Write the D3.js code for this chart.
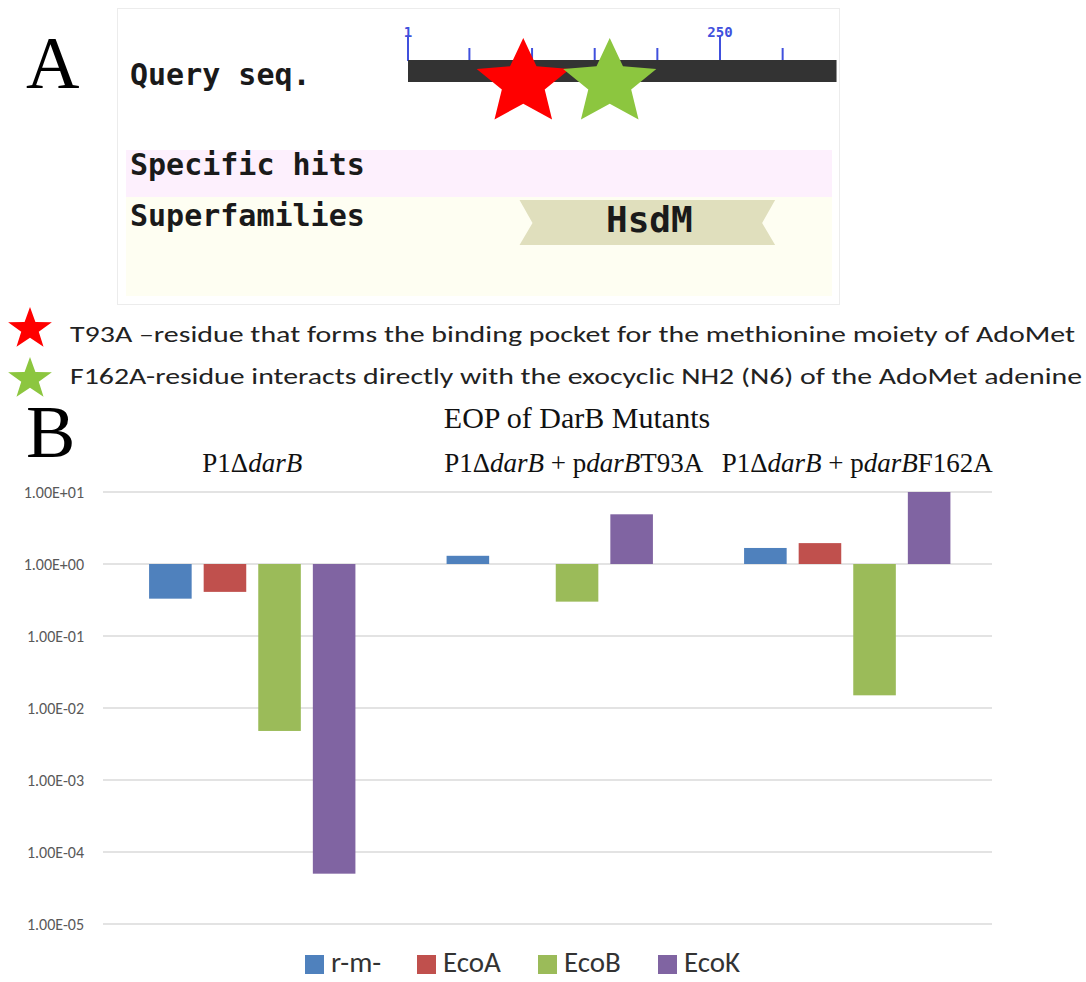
<!DOCTYPE html>
<html>
<head>
<meta charset="utf-8">
<script src="https://cdn.jsdelivr.net/npm/d3@7"></script>
<style>
  html, body { margin: 0; padding: 0; background: #fff; }
  svg { display: block; }
</style>
</head>
<body>
<svg id="fig" width="1086" height="982"></svg>
<script>
// ---------- Panel A: domain map of DarB ----------
const seqLength = 343;
const rulerTicks = [1, 50, 100, 150, 200, 250, 300];
const rulerLabels = [1, 250];
const mutations = [
  { residue: 93, name: "T93A", color: "#ff0000",
    text: "T93A \u2013residue that forms the binding pocket for the methionine moiety of AdoMet" },
  { residue: 162, name: "F162A", color: "#8cc63f",
    text: "F162A-residue interacts directly with the exocyclic NH2 (N6) of the AdoMet adenine" }
];
const trackNames = ["Query seq.", "Specific hits", "Superfamilies"];
const superfamily = { name: "HsdM", from: 90, to: 294 };

// ---------- Panel B: EOP bar chart ----------
const groups = ["P1\u0394darB", "P1\u0394darB + pdarBT93A", "P1\u0394darB + pdarBF162A"];
const series = ["r-m-", "EcoA", "EcoB", "EcoK"];
const eopRm   = [0.33, 1.3, 1.67];
const eopEcoA = [0.41, 1.0, 1.95];
const eopEcoB = [0.0048, 0.30, 0.015];
const eopEcoK = [0.00005, 4.9, 10];
const yTickValues = [1e1, 1e0, 1e-1, 1e-2, 1e-3, 1e-4, 1e-5];
const yTickLabels = ["1.00E+01", "1.00E+00", "1.00E-01", "1.00E-02", "1.00E-03", "1.00E-04", "1.00E-05"];
const seriesColors = ["#4f81bd", "#c0504d", "#9bbb59", "#8064a2"];

// group label pieces: [text, italic?]
const groupLabelParts = [
  [["P1\u0394", false], ["darB", true]],
  [["P1\u0394", false], ["darB", true], [" + p", false], ["darB", true], ["T93A", false]],
  [["P1\u0394", false], ["darB", true], [" + p", false], ["darB", true], ["F162A", false]]
];
const groupLabelShift = [0, 24, 10];

const svg = d3.select("#fig");
const serif = "'Liberation Serif', 'Times New Roman', serif";
const sans = "Carlito, Lato, 'Open Sans', sans-serif";
const mono = "'DejaVu Sans Mono', monospace";

function starPath(cx, cy, rx, ry, inner) {
  const pts = [];
  for (let i = 0; i < 10; i++) {
    const a = -Math.PI / 2 + i * Math.PI / 5;
    const k = i % 2 === 0 ? 1 : inner;
    pts.push([cx + Math.cos(a) * rx * k, cy + Math.sin(a) * ry * k]);
  }
  return d3.line()(pts) + "Z";
}

// ===== Panel A =====
const A = svg.append("g");
A.append("text").attr("x", 26).attr("y", 88).attr("font-family", serif)
  .attr("font-size", 74).attr("fill", "#000").text("A");

A.append("rect").attr("x", 117.5).attr("y", 8.5).attr("width", 722).attr("height", 296)
  .attr("fill", "#fff").attr("stroke", "#ececec");

// track backgrounds
A.append("rect").attr("x", 126).attr("y", 150).attr("width", 706).attr("height", 47).attr("fill", "#fdf0fd");
A.append("rect").attr("x", 126).attr("y", 197).attr("width", 706).attr("height", 99).attr("fill", "#fefef2");

const seqX = d3.scaleLinear().domain([1, 250]).range([408, 720]);

// ruler ticks
A.selectAll("line.rt").data(rulerTicks).join("line")
  .attr("x1", d => seqX(d)).attr("x2", d => seqX(d))
  .attr("y1", d => rulerLabels.includes(d) ? 36 : 48).attr("y2", 61)
  .attr("stroke", "#4050dd").attr("stroke-width", 2);
A.selectAll("text.rl").data(rulerLabels).join("text")
  .attr("x", d => seqX(d)).attr("y", 37).attr("text-anchor", "middle")
  .attr("font-family", mono).attr("font-weight", "bold").attr("font-size", 14)
  .attr("fill", "#4050dd").text(d => d);

// query sequence bar
A.append("rect").attr("x", seqX(1)).attr("y", 60)
  .attr("width", seqX(seqLength) - seqX(1)).attr("height", 22).attr("fill", "#333333");

// mutation stars
A.selectAll("path.mstar").data(mutations).join("path")
  .attr("d", d => starPath(seqX(d.residue), 83, 49, 45, 0.46))
  .attr("fill", d => d.color);

// track names
A.selectAll("text.tn").data(trackNames).join("text")
  .attr("x", 130).attr("y", (d, i) => [85, 175, 226][i])
  .attr("font-family", mono).attr("font-weight", "bold").attr("font-size", 30)
  .attr("fill", "#1a1a1a").text(d => d);

// superfamily ribbon
const sx0 = seqX(superfamily.from), sx1 = seqX(superfamily.to);
A.append("path")
  .attr("d", `M${sx0},200 L${sx1},200 L${sx1 - 13},223 L${sx1},245 L${sx0},245 L${sx0 + 13},223 Z`)
  .attr("fill", "#e0dfbd");
A.append("text").attr("x", (sx0 + sx1) / 2 + 2).attr("y", 232).attr("text-anchor", "middle")
  .attr("font-family", mono).attr("font-weight", "bold").attr("font-size", 36)
  .attr("fill", "#1a1a1a").text(superfamily.name);

// star key
const key = svg.append("g");
mutations.forEach((m, i) => {
  key.append("path").attr("d", starPath(30, [329, 379][i], 23, 22, 0.4)).attr("fill", m.color);
  key.append("text").attr("x", 70).attr("y", [342, 384][i])
    .attr("font-family", sans).attr("font-size", 23).attr("fill", "#222")
    .attr("textLength", [1005, 1012][i]).attr("lengthAdjust", "spacingAndGlyphs")
    .text(m.text);
});

// ===== Panel B =====
const B = svg.append("g");
B.append("text").attr("x", 26).attr("y", 457).attr("font-family", serif)
  .attr("font-size", 74).attr("fill", "#000").text("B");

B.append("text").attr("x", 577).attr("y", 428).attr("text-anchor", "middle")
  .attr("font-family", serif).attr("font-size", 30).attr("fill", "#111")
  .text("EOP of DarB Mutants");

const y = d3.scaleLog().domain([1e-5, 10]).range([924, 492]);
const x0 = d3.scaleBand().domain(groups).range([103.5, 996]);
const x1 = d3.scaleBand().domain(series).range([0, x0.bandwidth()])
  .paddingInner(0.22).paddingOuter(0.835);
const color = d3.scaleOrdinal().domain(series).range(seriesColors);

// gridlines
B.selectAll("line.grid").data(yTickValues).join("line")
  .attr("x1", 103).attr("x2", 992)
  .attr("y1", d => y(d)).attr("y2", d => y(d))
  .attr("stroke", "#dadada").attr("stroke-width", 1.5);

// y axis labels
const yAxis = d3.axisLeft(y).tickValues(yTickValues)
  .tickFormat((d, i) => yTickLabels[i]).tickSize(0).tickPadding(0);
const yg = B.append("g").attr("transform", "translate(84,0)").call(yAxis);
yg.select(".domain").remove();
yg.selectAll("text").attr("font-family", sans).attr("font-size", 16).attr("fill", "#595959");

// bars, hanging from 1.00E+00
const seriesValues = [eopRm, eopEcoA, eopEcoB, eopEcoK];
const rows = [];
groups.forEach((g, gi) => series.forEach((s, si) => rows.push({ g, s, v: seriesValues[si][gi] })));
B.selectAll("rect.bar").data(rows).join("rect")
  .attr("x", d => x0(d.g) + x1(d.s))
  .attr("width", x1.bandwidth())
  .attr("y", d => Math.min(y(d.v), y(1)))
  .attr("height", d => Math.abs(y(d.v) - y(1)))
  .attr("fill", d => color(d.s));

// group labels
groups.forEach((g, gi) => {
  const t = B.append("text")
    .attr("x", x0(g) + x0.bandwidth() / 2 + groupLabelShift[gi]).attr("y", 472)
    .attr("text-anchor", "middle").attr("font-family", serif)
    .attr("font-size", 27).attr("fill", "#111");
  groupLabelParts[gi].forEach(([txt, it]) => {
    t.append("tspan").attr("font-style", it ? "italic" : "normal").text(txt);
  });
});

// legend
const legX = [305, 417, 538, 658];
const leg = B.selectAll("g.leg").data(series).join("g")
  .attr("transform", (d, i) => `translate(${legX[i]},0)`);
leg.append("rect").attr("x", 0).attr("y", 955).attr("width", 19).attr("height", 19)
  .attr("fill", d => color(d));
leg.append("text").attr("x", 26).attr("y", 972)
  .attr("font-family", sans).attr("font-size", 29).attr("fill", "#333").text(d => d);
</script>
</body>
</html>
